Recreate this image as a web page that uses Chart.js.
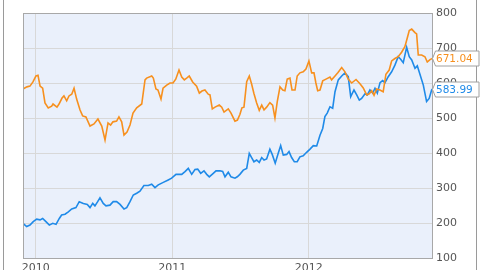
<!DOCTYPE html>
<html>
<head>
<meta charset="utf-8">
<script src="https://cdn.jsdelivr.net/npm/chart.js@4"></script>
<style>
html,body{margin:0;padding:0;background:#fff;}
#wrap{width:480px;height:270px;position:relative;}
</style>
</head>
<body>
<div id="wrap"><canvas id="c" width="480" height="270"></canvas></div>
<script>
const yearTicks = [2010, 2011, 2012];
const yTickLabels = [100, 200, 300, 400, 500, 600, 700, 800];

const orangeDates = [2009.907,2009.936,2009.958,2009.980,2010.002,2010.017,2010.032,2010.051,2010.068,2010.092,2010.117,2010.127,2010.156,2010.171,2010.193,2010.207,2010.227,2010.244,2010.264,2010.281,2010.300,2010.325,2010.344,2010.368,2010.398,2010.427,2010.456,2010.484,2010.508,2010.530,2010.549,2010.566,2010.593,2010.610,2010.630,2010.647,2010.669,2010.691,2010.713,2010.740,2010.777,2010.801,2010.813,2010.850,2010.862,2010.881,2010.896,2010.918,2010.933,2010.960,2010.984,2011.006,2011.026,2011.050,2011.070,2011.089,2011.106,2011.125,2011.150,2011.179,2011.199,2011.218,2011.240,2011.264,2011.277,2011.294,2011.314,2011.345,2011.363,2011.380,2011.411,2011.431,2011.460,2011.478,2011.496,2011.511,2011.526,2011.546,2011.565,2011.582,2011.599,2011.619,2011.638,2011.656,2011.673,2011.692,2011.716,2011.736,2011.753,2011.770,2011.790,2011.810,2011.826,2011.843,2011.863,2011.878,2011.900,2011.916,2011.936,2011.960,2011.980,2012.002,2012.022,2012.039,2012.053,2012.066,2012.083,2012.103,2012.127,2012.156,2012.168,2012.193,2012.215,2012.242,2012.266,2012.290,2012.315,2012.347,2012.376,2012.400,2012.425,2012.444,2012.462,2012.479,2012.498,2012.522,2012.546,2012.566,2012.590,2012.608,2012.632,2012.656,2012.681,2012.705,2012.722,2012.737,2012.755,2012.779,2012.791,2012.803,2012.828,2012.852,2012.869,2012.889,2012.911];
const orangeValues = [583,589,591,603,620,622,591,585,543,529,534,540,531,540,557,563,549,563,568,585,554,523,506,503,477,483,497,477,437,486,480,489,491,503,489,451,460,480,514,529,540,609,614,620,614,583,580,554,585,594,600,600,611,637,617,609,614,620,603,591,571,577,580,568,566,526,531,537,531,517,526,514,491,494,510,529,531,604,620,597,570,543,522,537,523,531,544,537,500,547,589,580,578,611,614,580,580,620,629,632,640,663,629,629,600,578,580,606,611,617,609,620,630,644,632,611,600,610,598,586,566,569,578,565,583,580,575,625,637,663,670,675,688,704,728,750,754,744,740,680,680,675,660,667,671.04];

const blueDates = [2009.907,2009.934,2009.958,2009.982,2010.007,2010.032,2010.051,2010.075,2010.100,2010.125,2010.149,2010.173,2010.190,2010.215,2010.239,2010.264,2010.295,2010.319,2010.349,2010.378,2010.398,2010.418,2010.434,2010.454,2010.471,2010.495,2010.515,2010.544,2010.568,2010.593,2010.618,2010.647,2010.667,2010.691,2010.715,2010.740,2010.764,2010.793,2010.825,2010.850,2010.874,2010.898,2010.935,2010.971,2010.996,2011.028,2011.070,2011.094,2011.118,2011.143,2011.167,2011.187,2011.209,2011.233,2011.253,2011.272,2011.301,2011.321,2011.350,2011.370,2011.387,2011.411,2011.431,2011.460,2011.477,2011.496,2011.521,2011.546,2011.565,2011.582,2011.599,2011.619,2011.638,2011.656,2011.673,2011.692,2011.716,2011.733,2011.755,2011.777,2011.795,2011.814,2011.839,2011.856,2011.875,2011.895,2011.916,2011.936,2011.960,2011.985,2012.010,2012.034,2012.059,2012.083,2012.103,2012.119,2012.136,2012.156,2012.176,2012.193,2012.217,2012.242,2012.266,2012.290,2012.308,2012.332,2012.352,2012.371,2012.388,2012.413,2012.430,2012.449,2012.469,2012.486,2012.503,2012.523,2012.542,2012.559,2012.583,2012.608,2012.632,2012.656,2012.674,2012.693,2012.718,2012.737,2012.755,2012.779,2012.796,2012.821,2012.840,2012.864,2012.883,2012.901,2012.911];
const blueValues = [199,190,194,204,211,209,213,204,194,199,196,213,223,225,232,240,244,261,256,253,244,256,249,261,272,256,249,251,261,261,253,240,244,261,280,285,291,307,307,311,301,309,316,323,328,339,339,347,356,339,353,354,342,349,339,332,342,349,349,347,332,345,332,328,332,339,351,356,399,387,375,380,373,387,380,383,411,396,371,399,421,394,396,404,387,375,375,389,392,402,411,421,420,451,470,504,514,532,528,575,609,620,629,618,561,580,566,551,556,569,566,580,571,585,571,601,607,601,618,632,651,675,668,658,702,675,666,642,649,618,594,547,556,580,583.99];

const orangeColor = '#f7901e';
const blueColor = '#1f8ae8';

const toPoints = (xs, ys) => xs.map((x, i) => ({x: x, y: ys[i]}));

const framePlugin = {
  id: 'frame',
  beforeDraw(chart) {
    const {ctx, chartArea: a} = chart;
    ctx.save();
    ctx.fillStyle = '#eaf0fb';
    ctx.fillRect(a.left, a.top, a.right - a.left, a.bottom - a.top);
    ctx.restore();
  },
  afterDraw(chart) {
    const {ctx, chartArea: a} = chart;
    ctx.save();
    ctx.strokeStyle = '#a8a8a8';
    ctx.lineWidth = 1;
    ctx.strokeRect(a.left + 0.5, a.top + 0.5, a.right - a.left - 1, a.bottom - a.top);
    ctx.strokeStyle = '#9a9a9a';
    ctx.beginPath();
    ctx.moveTo(3.5, 0); ctx.lineTo(3.5, 270);
    ctx.moveTo(476.5, 0); ctx.lineTo(476.5, 270);
    ctx.stroke();
    // last-value flags
    const ys = chart.scales.y;
    chart.data.datasets.forEach(ds => {
      const last = ds.data[ds.data.length - 1].y;
      const py = Math.round(ys.getPixelForValue(last)) + 0.5;
      const x0 = a.right - 0.5, h = 15;
      ctx.beginPath();
      ctx.moveTo(x0, py);
      ctx.lineTo(x0 + 3, py - h / 2);
      ctx.lineTo(479, py - h / 2);
      ctx.lineTo(479, py + h / 2);
      ctx.lineTo(x0 + 3, py + h / 2);
      ctx.closePath();
      ctx.fillStyle = '#ffffff';
      ctx.fill();
      ctx.strokeStyle = '#a0a0a0';
      ctx.stroke();
      ctx.fillStyle = ds.borderColor;
      ctx.font = '10.5px "DejaVu Sans"';
      ctx.textBaseline = 'middle';
      ctx.textAlign = 'left';
      ctx.fillText(last.toFixed(2), a.right + 3, py + 0.5);
    });
    ctx.restore();
  }
};

new Chart(document.getElementById('c'), {
  type: 'line',
  data: {
    datasets: [
      {data: toPoints(orangeDates, orangeValues), borderColor: orangeColor, borderWidth: 1.6, pointRadius: 0, tension: 0, fill: false},
      {data: toPoints(blueDates, blueValues), borderColor: blueColor, borderWidth: 1.6, pointRadius: 0, tension: 0, fill: false}
    ]
  },
  options: {
    responsive: false,
    animation: false,
    events: [],
    layout: {padding: {left: 23, top: 13, right: 0, bottom: 0}},
    plugins: {legend: {display: false}, tooltip: {enabled: false}, title: {display: false}},
    scales: {
      x: {
        type: 'linear',
        min: 2009.907,
        max: 2012.911,
        afterBuildTicks: s => { s.ticks = yearTicks.map(v => ({value: v})); },
        afterFit: s => { s.height = 12; },
        ticks: {
          callback: v => String(v),
          color: '#555',
          font: {family: 'DejaVu Sans', size: 11},
          padding: 4,
          maxRotation: 0,
          autoSkip: false
        },
        grid: {color: '#d8d8d8', drawTicks: false},
        border: {display: false}
      },
      y: {
        position: 'right',
        min: 100,
        max: 800,
        afterBuildTicks: s => { s.ticks = yTickLabels.map(v => ({value: v})); },
        afterFit: s => { s.width = 47; },
        ticks: {
          callback: v => String(v),
          color: '#555',
          font: {family: 'DejaVu Sans', size: 11},
          padding: 3
        },
        grid: {color: '#d8d8d8', drawTicks: false},
        border: {display: false}
      }
    }
  },
  plugins: [framePlugin]
});
</script>
</body>
</html>
